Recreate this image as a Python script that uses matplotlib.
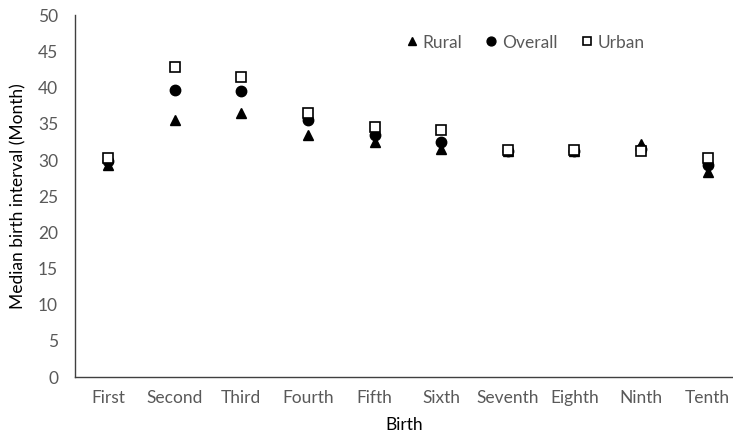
import matplotlib
matplotlib.use("Agg")
import matplotlib.pyplot as plt

births = ["First", "Second", "Third", "Fourth", "Fifth", "Sixth",
          "Seventh", "Eighth", "Ninth", "Tenth"]
rural = [29.3, 35.5, 36.5, 33.5, 32.5, 31.5, 31.3, 31.3, 32.2, 28.3]
overall = [29.9, 39.7, 39.5, 35.5, 33.4, 32.5, 31.3, 31.3, 31.5, 29.3]
urban = [30.3, 42.8, 41.5, 36.5, 34.5, 34.2, 31.4, 31.4, 31.2, 30.3]

plt.rcParams['font.family'] = ['Lato', 'DejaVu Sans']
text_color = '#595959'

fig = plt.figure(figsize=(7.33, 4.36), dpi=100)
ax = fig.add_axes([0.102, 0.135, 0.898, 0.83])

x = list(range(1, len(births) + 1))
ax.plot(x, rural, linestyle='none', marker='^', color='black', markersize=7, label='Rural', zorder=3)
ax.plot(x, overall, linestyle='none', marker='o', color='black', markersize=7.5, label='Overall', zorder=4)
ax.plot(x, urban, linestyle='none', marker='s', markerfacecolor='white', markeredgecolor='black',
        markeredgewidth=1.2, markersize=7.5, label='Urban', zorder=5)

ax.set_xlim(0.5, 10.38)
ax.set_ylim(0, 50)
ax.set_yticks(range(0, 51, 5))
ax.set_xticks(x)
ax.set_xticklabels(births)
ax.tick_params(axis='both', length=0, labelsize=12.5, labelcolor=text_color, pad=9)
ax.tick_params(axis='y', pad=12)

for side in ['top', 'right']:
    ax.spines[side].set_visible(False)
for side in ['left', 'bottom']:
    ax.spines[side].set_color('#404040')
    ax.spines[side].set_linewidth(1.0)

ax.set_xlabel('Birth', fontsize=12.5, color='black', labelpad=8)
ax.set_ylabel('Median birth interval (Month)', fontsize=12.5, color='black', labelpad=8)

leg = ax.legend(loc='upper left', bbox_to_anchor=(0.475, 0.99), ncol=3, frameon=False,
                fontsize=12.5, handletextpad=0.1, columnspacing=1.2, handlelength=1.0,
                markerscale=0.85)
for t in leg.get_texts():
    t.set_color(text_color)

fig.savefig('out.png', dpi=100)
